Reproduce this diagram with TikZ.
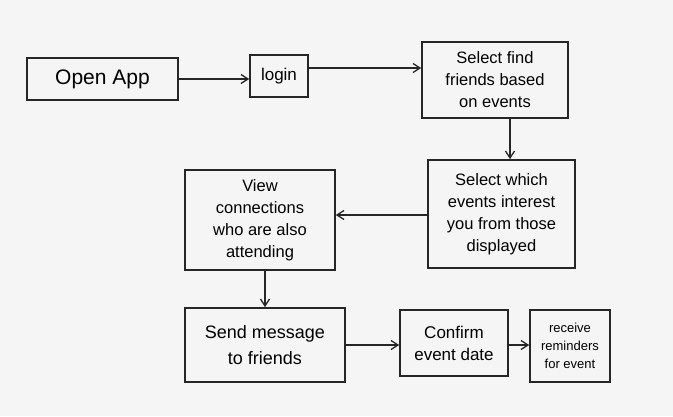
\documentclass[tikz,border=0pt]{standalone}
\usepackage{fontspec}
\setmainfont{Liberation Sans}
\usetikzlibrary{arrows.meta}
\begin{document}
\begin{tikzpicture}[x=1pt,y=-1pt,
  stepbox/.style={draw=black!85,line width=1.6pt,align=center,inner sep=2pt,
    font=\fontsize{16.5}{22}\selectfont},
  conn/.style={draw=black!85,line width=1.3pt,-{Straight Barb[length=7pt,width=9pt]}}]
\fill[black!4] (0,0) rectangle (673,416);
\useasboundingbox (0,0) rectangle (673,416);
\node[stepbox,minimum width=151pt,minimum height=42pt,font=\fontsize{21}{24}\selectfont] (open) at (102.5,79) {Open App};
\node[stepbox,minimum width=58pt,minimum height=42pt,font=\fontsize{17}{20}\selectfont] (login) at (279,76) {login};
\node[stepbox,minimum width=146pt,minimum height=76pt] (find) at (495,80) {Select find\\friends based\\on events};
\node[stepbox,minimum width=147pt,minimum height=108pt] (which) at (501.5,214) {Select which\\events interest\\you from those\\displayed};
\node[stepbox,minimum width=150pt,minimum height=100pt] (view) at (260,220) {View\\connections\\who are also\\attending};
\node[stepbox,minimum width=160pt,minimum height=74pt,font=\fontsize{18}{26}\selectfont] (send) at (265,345) {Send message\\to friends};
\node[stepbox,minimum width=108pt,minimum height=66pt,font=\fontsize{17}{22}\selectfont] (confirm) at (454,343) {Confirm\\event date};
\node[stepbox,minimum width=80pt,minimum height=72pt,font=\fontsize{13}{18}\selectfont] (remind) at (570,346) {receive\\reminders\\for event};
\draw[conn] (open.east) -- (login.west |- open.east);
\draw[conn] (login.east |- 0,68) -- (find.west |- 0,68);
\draw[conn] (find.south -| 510,0) -- (which.north -| 510,0);
\draw[conn] (which.west |- 0,215) -- (view.east |- 0,215);
\draw[conn] (view.south -| 265,0) -- (send.north -| 265,0);
\draw[conn] (send.east |- 0,345) -- (confirm.west |- 0,345);
\draw[conn] (confirm.east |- 0,345) -- (remind.west |- 0,345);
\end{tikzpicture}
\end{document}
